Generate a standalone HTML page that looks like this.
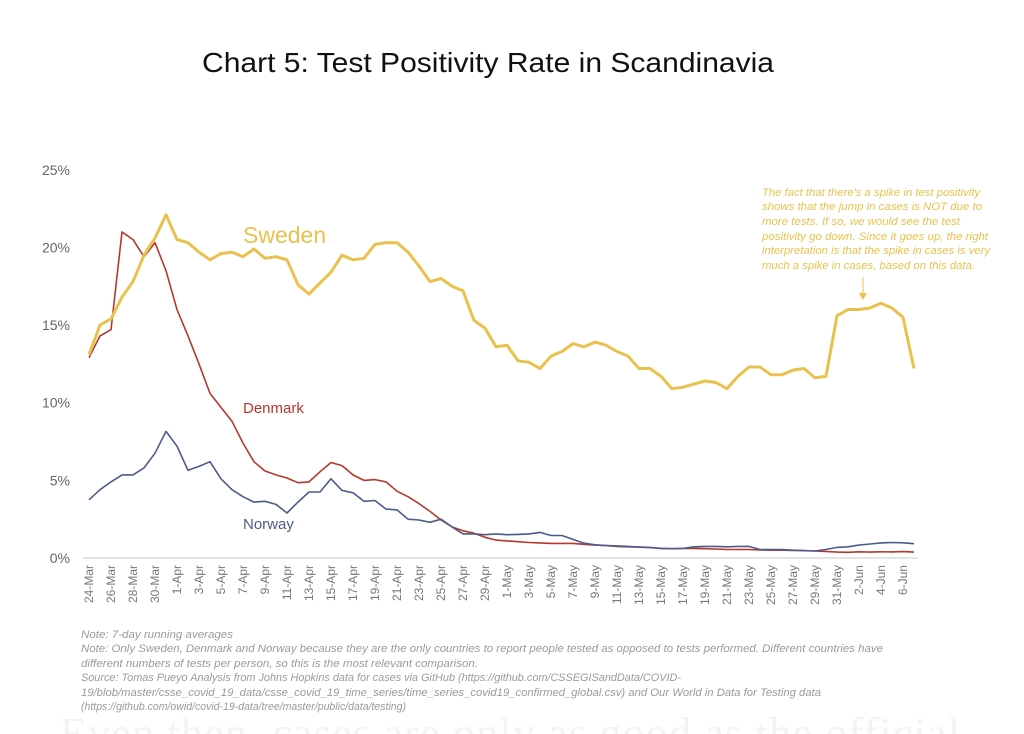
<!DOCTYPE html>
<html><head><meta charset="utf-8"><style>
html,body{margin:0;padding:0;background:#fff;}
svg{display:block;font-family:"Liberation Sans",sans-serif;}
</style></head><body>
<svg id="chart" width="1024" height="734" viewBox="0 0 1024 734" xmlns="http://www.w3.org/2000/svg">
<text x="60" y="748" font-family="Liberation Serif,serif" font-size="44" fill="#f3f3f3" textLength="900">Even then, cases are only as good as the official</text>
<text x="488" y="72" text-anchor="middle" font-size="28" fill="#111" textLength="572" lengthAdjust="spacingAndGlyphs">Chart 5: Test Positivity Rate in Scandinavia</text>
<g id="yaxis"></g>
<g id="xaxis"></g>
<g id="series"></g>
<text x="243" y="243" font-size="23" fill="#eac14d">Sweden</text>
<text x="243" y="413" font-size="15" fill="#b5382e">Denmark</text>
<text x="243" y="529" font-size="15" fill="#4c5b8c">Norway</text>
<g font-size="11" font-style="italic" fill="#eac14d">
<text x="762" y="196" textLength="218" lengthAdjust="spacingAndGlyphs">The fact that there's a spike in test positivity</text>
<text x="762" y="210" textLength="220" lengthAdjust="spacingAndGlyphs">shows that the jump in cases is NOT due to</text>
<text x="762" y="225" textLength="198" lengthAdjust="spacingAndGlyphs">more tests. If so, we would see the test</text>
<text x="762" y="240" textLength="226" lengthAdjust="spacingAndGlyphs">positivity go down. Since it goes up, the right</text>
<text x="762" y="254" textLength="228" lengthAdjust="spacingAndGlyphs">interpretation is that the spike in cases is very</text>
<text x="762" y="269" textLength="213" lengthAdjust="spacingAndGlyphs">much a spike in cases, based on this data.</text>
</g>
<g stroke="#eac14d" fill="#eac14d">
<line x1="863" y1="277" x2="863" y2="296" stroke-width="1"/>
<path d="M859,293 L867,293 L863,300 Z" stroke="none"/>
</g>
<g font-size="11" font-style="italic" fill="#9a9a9a">
<text x="81" y="638" textLength="152" lengthAdjust="spacingAndGlyphs">Note: 7-day running averages</text>
<text x="81" y="652" textLength="802" lengthAdjust="spacingAndGlyphs">Note: Only Sweden, Denmark and Norway because they are the only countries to report people tested as opposed to tests performed. Different countries have</text>
<text x="81" y="667" textLength="397" lengthAdjust="spacingAndGlyphs">different numbers of tests per person, so this is the most relevant comparison.</text>
<text x="81" y="681" textLength="600" lengthAdjust="spacingAndGlyphs">Source: Tomas Pueyo Analysis from Johns Hopkins data for cases via GitHub (https://github.com/CSSEGISandData/COVID-</text>
<text x="81" y="696" textLength="740" lengthAdjust="spacingAndGlyphs">19/blob/master/csse_covid_19_data/csse_covid_19_time_series/time_series_covid19_confirmed_global.csv) and Our World in Data for Testing data</text>
<text x="81" y="710" textLength="325" lengthAdjust="spacingAndGlyphs">(https://github.com/owid/covid-19-data/tree/master/public/data/testing)</text>
</g>
</svg>
<script>
const yTicks = [0, 5, 10, 15, 20, 25];
const xTickLabels = ["24-Mar","26-Mar","28-Mar","30-Mar","1-Apr","3-Apr","5-Apr","7-Apr","9-Apr","11-Apr","13-Apr","15-Apr","17-Apr","19-Apr","21-Apr","23-Apr","25-Apr","27-Apr","29-Apr","1-May","3-May","5-May","7-May","9-May","11-May","13-May","15-May","17-May","19-May","21-May","23-May","25-May","27-May","29-May","31-May","2-Jun","4-Jun","6-Jun"];
const sweden = [13.1,15.0,15.4,16.8,17.8,19.5,20.6,22.1,20.5,20.3,19.7,19.2,19.6,19.7,19.4,19.9,19.3,19.4,19.2,17.6,17.0,17.7,18.4,19.5,19.2,19.3,20.2,20.3,20.3,19.7,18.8,17.8,18.0,17.5,17.2,15.3,14.8,13.6,13.7,12.7,12.6,12.2,13.0,13.3,13.8,13.6,13.9,13.7,13.3,13.0,12.2,12.2,11.7,10.9,11.0,11.2,11.4,11.3,10.9,11.7,12.3,12.3,11.8,11.8,12.1,12.2,11.6,11.7,15.6,16.0,16.0,16.1,16.4,16.1,15.5,12.2];
const denmark = [12.9,14.3,14.7,21.0,20.5,19.4,20.3,18.5,16.0,14.3,12.5,10.6,9.7,8.8,7.4,6.2,5.6,5.35,5.15,4.85,4.9,5.55,6.15,5.95,5.35,5.0,5.05,4.9,4.3,3.95,3.5,3.0,2.45,2.0,1.75,1.6,1.33,1.15,1.1,1.05,1.0,0.97,0.94,0.94,0.94,0.88,0.83,0.8,0.78,0.75,0.7,0.68,0.62,0.6,0.62,0.62,0.6,0.58,0.55,0.55,0.55,0.52,0.5,0.5,0.48,0.48,0.45,0.42,0.38,0.37,0.4,0.38,0.4,0.39,0.41,0.38];
const norway = [3.75,4.4,4.9,5.35,5.35,5.8,6.75,8.15,7.2,5.65,5.9,6.2,5.1,4.4,3.95,3.6,3.65,3.45,2.9,3.6,4.25,4.25,5.1,4.35,4.2,3.65,3.7,3.15,3.1,2.5,2.45,2.3,2.5,2.0,1.55,1.55,1.5,1.55,1.5,1.52,1.55,1.65,1.45,1.45,1.2,0.95,0.85,0.8,0.75,0.72,0.7,0.67,0.62,0.6,0.62,0.72,0.75,0.75,0.72,0.75,0.75,0.55,0.55,0.55,0.5,0.47,0.45,0.55,0.68,0.72,0.83,0.9,0.97,1.0,0.98,0.92];

const NS = "http://www.w3.org/2000/svg";
const x0 = 89, dayW = 11, y0 = 558, pxPer = 15.53;
const xScale = d => x0 + d * dayW;
const yScale = v => y0 - v * pxPer;
function mk(tag, attrs, parent) {
  const el = document.createElementNS(NS, tag);
  for (const k in attrs) el.setAttribute(k, attrs[k]);
  parent.appendChild(el);
  return el;
}
const yAxis = document.getElementById('yaxis');
yTicks.forEach(t => {
  const tx = mk('text', {x: 70, y: yScale(t) + 5, 'text-anchor': 'end', 'font-size': 14, fill: '#666'}, yAxis);
  
  
  tx.textContent = t + '%';
});
const xAxis = document.getElementById('xaxis');
const axisLine = mk('line', {x1: 83, x2: 918, y1: y0, y2: y0, stroke: '#dcdcdc', 'stroke-width': 1.5}, xAxis);


xTickLabels.forEach((lab, i) => {
  const x = xScale(i * 2) + 4;
  const tx = mk('text', {x: 0, y: 0, 'text-anchor': 'end', 'font-size': 12, fill: '#777', transform: `translate(${x},565) rotate(-90)`}, xAxis);
  
  
  tx.textContent = lab;
});
const series = document.getElementById('series');
function line(vals, color, w, name) {
  const d = vals.map((v, i) => (i ? 'L' : 'M') + xScale(i).toFixed(1) + ',' + yScale(v).toFixed(1)).join(' ');
  const p = mk('path', {d: d, fill: 'none', stroke: color, 'stroke-width': w, 'stroke-linejoin': 'round'}, series);
  
  
}
line(denmark, '#b5382e', 1.6, 'denmark-line');
line(norway, '#4c5b8c', 1.6, 'norway-line');
line(sweden, '#eac14d', 3, 'sweden-line');
</script>
</body></html>
